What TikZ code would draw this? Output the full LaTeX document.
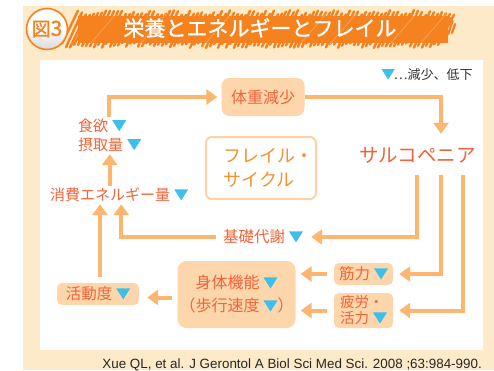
\documentclass[tikz,border=0pt]{standalone}
\usepackage{fontspec}
\setmainfont{Liberation Sans}
\newfontfamily\jp{Noto Sans CJK JP}
\newfontfamily\jpb{Noto Sans CJK JP}[FakeBold=1.2]
\usetikzlibrary{arrows.meta}
\definecolor{cream}{HTML}{FDEAC8}
\definecolor{brush}{HTML}{F5821F}
\definecolor{txt}{HTML}{F0643A}
\definecolor{boxfill}{HTML}{FDD6AC}
\definecolor{arr}{HTML}{FDB66F}
\definecolor{tric}{HTML}{3DBFEB}
\definecolor{framec}{HTML}{FDD3A6}
\definecolor{fc}{HTML}{F39233}
\newcommand\tri[1][1]{\hspace{4pt}\tikz[baseline=0pt,x=#1pt,y=#1pt,sharp corners]\fill[tric,sharp corners] (0,11.5)--(14,11.5)--(7,0.5)--cycle;}
\tikzset{
  lbl/.style={text=txt, inner sep=2pt, font=\jp\fontsize{15.5}{19}\selectfont},
  fbox/.style={lbl, fill=boxfill, rounded corners=5pt},
  arrowline/.style={draw=arr, line width=4pt, -{Triangle[width=15pt,length=11pt]}},
}
\begin{document}
\begin{tikzpicture}[x=1pt,y=-1pt]
\useasboundingbox (0,0) rectangle (494,370);
\fill[cream] (23,6) rectangle (494,370);
\fill[white] (40,60) rectangle (483,350);
% brush banner
\fill[brush] (78,16) rectangle (448,43);
\pgfmathsetseed{7}
\foreach \x in {62,66,...,440}{
  \pgfmathsetmacro\a{rnd*5}
  \pgfmathsetmacro\b{rnd*5}
  \draw[brush,line width=2.4pt,line cap=round] (\x,{48-\a}) -- ({\x+16},{10+\b});
}
\foreach \x/\l in {444/12,448/9,452/6}{
  \draw[brush,line width=2.2pt,line cap=round] (\x,{30+\l/2}) -- ({\x+\l/2},{30-\l});
}
\foreach \x in {90,140,205,300,330,390,420}{
  \draw[white,opacity=.35,line width=.5pt] (\x,44) -- ({\x+26},14);
}
% circle
\shade[top color=white, bottom color=gray!30, middle color=white, draw=brush, line width=1.6pt] (47,29) circle (20.5);
\node[font=\jpb\fontsize{19}{20}\selectfont, text=brush, inner sep=0pt] (fig) at (47,29) {図\fontsize{21}{22}\selectfont 3};
\node[font=\jpb\fontsize{21}{24}\selectfont, text=white] (title) at (260,28) {栄養とエネルギーとフレイル};
% legend
\node[font=\jp\fontsize{13}{15}\selectfont, text=black!80] (legend) at (425,75) {\tri[0.95]\hspace{-1pt}…減少、低下};
% nodes
\node[fbox, minimum width=83pt, minimum height=38pt, rounded corners=8pt, font=\jp\fontsize{16}{19}\selectfont] (wl) at (263,97) {体重減少};
\node[lbl, font=\jp\fontsize{19.5}{22}\selectfont, minimum height=40pt] (sarc) at (417.5,155) {サルコペニア};
\node[draw=framec, line width=2pt, fill=white, rounded corners=6pt, minimum width=110pt, minimum height=62pt] (cyc) at (261,168) {};
\node[text=fc, font=\jp\fontsize{18}{24}\selectfont, align=left, anchor=west] (cyct) at (220,168) {フレイル・\\サイクル};
\node[lbl, align=left, anchor=west, font=\jp\fontsize{15}{19}\selectfont] (intake) at (76,135.5) {食欲\tri\\摂取量\tri};
\node[lbl, anchor=west, font=\jp\fontsize{15}{18}\selectfont] (cons) at (48,195) {消費エネルギー量\tri};
\node[lbl, font=\jp\fontsize{15.5}{18}\selectfont] (bm) at (263,237) {基礎代謝\tri};
\node[fbox, minimum width=82pt, minimum height=22pt] (act) at (98,294) {活動度\tri};
\node[fbox, minimum width=113pt, minimum height=67pt, rounded corners=9pt, align=center, font=\jp\fontsize{16}{23}\selectfont] (phys) at (236.5,294.5) {身体機能\tri\\（歩行速度\tri）};
\node[fbox, minimum width=59pt, minimum height=22pt] (str) at (363.5,274) {筋力\tri};
\node[fbox, minimum width=59pt, minimum height=35pt, align=left, font=\jp\fontsize{14.5}{16}\selectfont] (fat) at (363.5,310.5) {疲労・\\活力\tri};
% citation
\node[anchor=base east, font=\fontsize{13.4}{15}\selectfont, text=black!85, inner sep=0pt] (cite) at (482,368) {Xue QL, et al. J Gerontol A Biol Sci Med Sci. 2008 ;63:984-990.};
% connectors
\draw[arrowline, shorten >=4pt] ([xshift=-1pt]intake.north) |- (wl.west);
\draw[arrowline, shorten >=1pt] (wl.east) -| ([xshift=23.5pt]sarc.north);
\draw[arrowline] (cons.north -| intake.south) -- (intake.south);
\draw[arrowline, shorten >=6pt] ([xshift=-0.5pt]sarc.south) |- (bm.east);
\draw[arrowline, shorten >=6pt] ([xshift=23.5pt]sarc.south) |- (str.east);
\draw[arrowline, shorten >=6pt] ([xshift=45.5pt]sarc.south) |- (fat.east);
\draw[arrowline, shorten <=5pt] (bm.west) -| ([xshift=2pt]cons.south);
\draw[arrowline, shorten <=6pt] ([xshift=2pt]act.north) -- ([xshift=2pt]act.north |- cons.south);
\draw[arrowline, shorten <=5pt, shorten >=8pt] ([yshift=-3pt]phys.west) -- ([yshift=-3pt]phys.west -| act.east);
\draw[arrowline, shorten <=7pt, shorten >=5pt] (str.west) -- (str.west -| phys.east);
\draw[arrowline, shorten <=7pt, shorten >=5pt] (fat.west) -- (fat.west -| phys.east);
\end{tikzpicture}
\end{document}
